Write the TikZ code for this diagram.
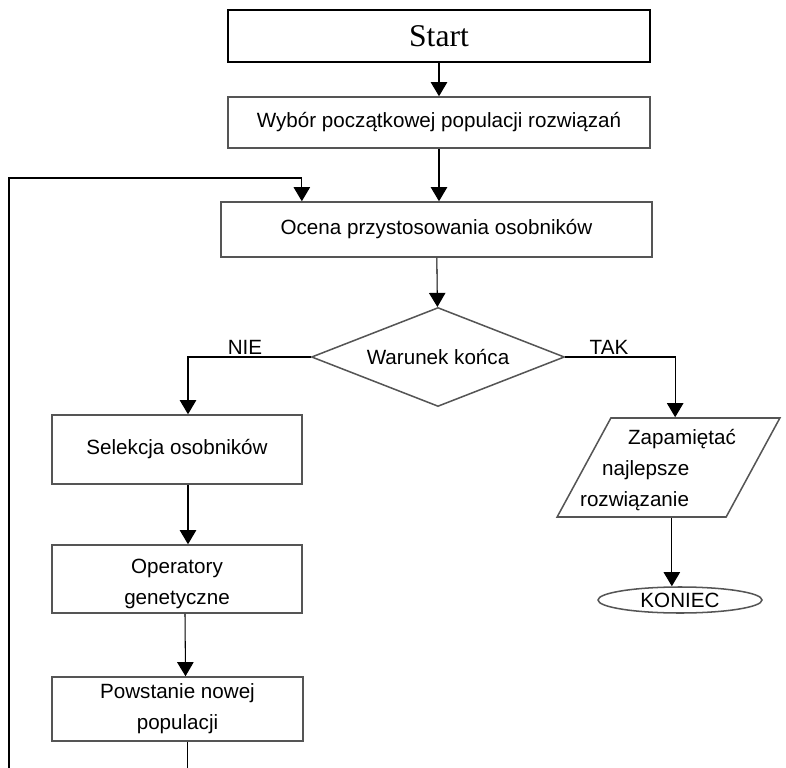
\documentclass[tikz,border=0pt]{standalone}
\usepackage{fontspec}
\setmainfont{Liberation Sans}
\newfontfamily\startfont{Liberation Serif}
\usetikzlibrary{arrows.meta,shapes.geometric}
\definecolor{boxgray}{RGB}{85,85,85}
\begin{document}
\begin{tikzpicture}[x=0.03cm,y=-0.03cm,
    font=\fontsize{17.6}{26.5}\selectfont,
    box/.style={draw=boxgray,line width=1.3pt,inner sep=0pt,align=center},
    arr/.style={-{Triangle[length=12pt,width=14pt]},line width=0.9pt}]
    \useasboundingbox (0,0) rectangle (786,768);
    \clip (0,0) rectangle (786,768);

    % Main column
    \node[box,draw=black,line width=2.2pt,minimum width=12.66cm,minimum height=1.56cm,
          font=\startfont\fontsize{27}{32}\selectfont] (start) at (439,36) {Start};
    \node[box,minimum width=12.66cm,minimum height=1.53cm] (wyb) at (439,122.5) {Wybór początkowej populacji rozwiązań};
    \node[box,minimum width=12.93cm,minimum height=1.65cm] (ocena) at (436.5,229.5) {Ocena przystosowania osobników};
    \node[box,diamond,aspect=2.56,minimum width=7.59cm,minimum height=2.97cm] (dec) at (438,357) {Warunek końca};

    % Branch NIE
    \node[box,minimum width=7.5cm,minimum height=2.07cm] (sel) at (177,449.5) {Selekcja osobników};
    \node[box,minimum width=7.5cm,minimum height=2.04cm] (ope) at (177,579) {\rule{0pt}{20pt}Operatory\\genetyczne};
    \node[box,minimum width=7.53cm,minimum height=1.92cm] (pow) at (177.5,709) {Powstanie nowej\\populacji};

    % Branch TAK
    \node[box,trapezium,trapezium left angle=65,trapezium right angle=115,trapezium stretches=true,
          inner sep=4pt,minimum width=6.69cm,minimum height=2.97cm] (zap) at (668.5,467.5) {};
    \node[align=left] (zaptxt) at (658,470) {\hspace{1.44cm}Zapamiętać\\\hspace{0.66cm}najlepsze\\rozwiązanie};
    \node[box,ellipse,minimum width=4.92cm,minimum height=0.78cm] (kon) at (680,600) {KONIEC};

    % Labels
    \node (nie) at (245,347) {NIE};
    \node (tak) at (609,347) {TAK};

    % Connectors
    \coordinate (loopL) at (9,178);
    \draw[arr] (start) -- (wyb);
    \draw[arr] (wyb.south) -- (wyb.south |- ocena.north);
    \draw[arr] (ocena) -- (dec);
    \draw[arr] (dec.west) -| ([xshift=0.33cm]sel.north);
    \draw[arr] (dec.east) -| ([xshift=0.2cm]zap.north);
    \draw[arr] ([xshift=0.33cm]sel.south) -- ([xshift=0.33cm]ope.north);
    \draw[arr] ([xshift=0.24cm]ope.south) -- ([xshift=0.24cm]pow.north);
    \draw[arr] ([xshift=0.1cm]zap.south) -- ([xshift=0.1cm]zap.south |- kon.north);
    \draw[arr] ([xshift=0.29cm]pow.south) -- ++(0,80) -| (loopL) -| ([xshift=-4.04cm]ocena.north);
\end{tikzpicture}
\end{document}
